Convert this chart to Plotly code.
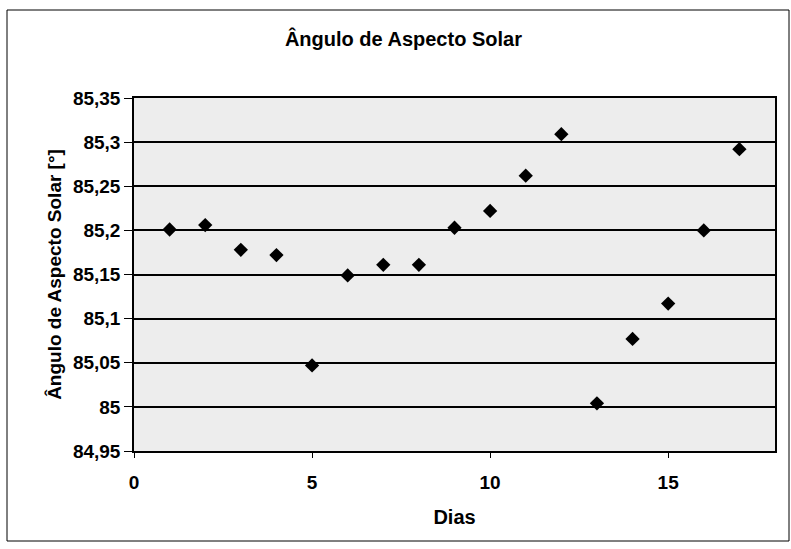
import plotly.graph_objects as go

dias = [1, 2, 3, 4, 5, 6, 7, 8, 9, 10, 11, 12, 13, 14, 15, 16, 17]
angulo = [85.201, 85.206, 85.178, 85.172, 85.047, 85.149, 85.161, 85.161, 85.203,
          85.222, 85.262, 85.309, 85.004, 85.077, 85.117, 85.200, 85.292]

x_ticks = [0, 5, 10, 15]
y_ticks = [84.95, 85.0, 85.05, 85.1, 85.15, 85.2, 85.25, 85.3, 85.35]

FONT = "Liberation Sans, Arial, sans-serif"

fig = go.Figure()
fig.add_trace(go.Scatter(
    x=dias, y=angulo, mode="markers",
    marker=dict(symbol="diamond", size=11, color="black", line=dict(width=0)),
    showlegend=False,
))

L, R, T, B = 134, 16, 98, 98
W, H = 791, 549
pw, ph = W - L - R, H - T - B

fig.update_layout(
    width=W, height=H,
    margin=dict(l=L, r=R, t=T, b=B),
    paper_bgcolor="white",
    plot_bgcolor="#ededed",
    separators=",.",
    font=dict(family=FONT, color="black", size=19),
    title=dict(text="<b>Ângulo de Aspecto Solar</b>", x=0.51, xanchor="center",
               y=1 - 39 / H, yanchor="middle", font=dict(size=20, family=FONT)),
    xaxis=dict(
        range=[0, 18], tickvals=x_ticks, ticktext=[f"<b>{v}</b>" for v in x_ticks],
        showgrid=False, zeroline=False, showline=True, linecolor="black", linewidth=1.5,
        ticks="outside", ticklen=5, tickcolor="black", mirror=True,
        ticklabelstandoff=8,
        title=dict(text="<b>Dias</b>", font=dict(size=20), standoff=18),
        tickfont=dict(size=19),
    ),
    yaxis=dict(
        range=[84.95, 85.35], tickvals=y_ticks,
        ticktext=["<b>" + (f"{v:.2f}".rstrip("0").rstrip(".")).replace(".", ",") + "</b>" for v in y_ticks],
        showgrid=True, gridcolor="black", gridwidth=1.5, zeroline=False,
        showline=True, linecolor="black", linewidth=1.5, mirror=True,
        ticks="outside", ticklen=8, tickcolor="black",
        title=dict(text="<b>Ângulo de Aspecto Solar [°]</b>", font=dict(size=19), standoff=6),
        tickfont=dict(size=19),
    ),
)

# chart frame
fig.add_shape(type="rect", xref="paper", yref="paper",
              x0=(7 - L) / pw, x1=(789 - L) / pw,
              y0=-(541 - (H - B)) / ph, y1=1 + (T - 10) / ph,
              line=dict(color="black", width=1), layer="below")

fig.write_html("out.html")
